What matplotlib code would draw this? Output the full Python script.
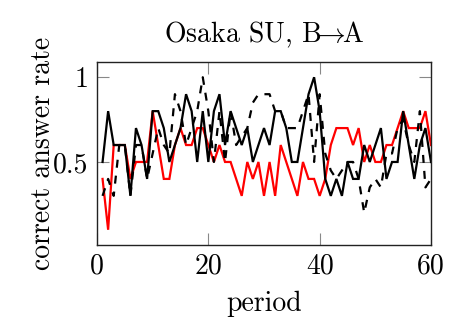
import matplotlib
matplotlib.use("Agg")
import matplotlib.pyplot as plt

periods = list(range(1, 61))
red_rate = [0.4, 0.1, 0.6, 0.6, 0.6, 0.4, 0.5, 0.5, 0.5, 0.8,
            0.6, 0.4, 0.4, 0.6, 0.7, 0.6, 0.6, 0.7, 0.7, 0.6,
            0.5, 0.6, 0.5, 0.5, 0.4, 0.3, 0.5, 0.4, 0.5, 0.3,
            0.5, 0.3, 0.6, 0.5, 0.4, 0.3, 0.5, 0.4, 0.4, 0.3,
            0.4, 0.6, 0.7, 0.7, 0.7, 0.6, 0.7, 0.5, 0.6, 0.5,
            0.5, 0.6, 0.6, 0.7, 0.8, 0.7, 0.7, 0.7, 0.8, 0.6]
black_rate = [0.5, 0.8, 0.6, 0.6, 0.6, 0.3, 0.7, 0.6, 0.4, 0.8,
              0.8, 0.7, 0.5, 0.6, 0.7, 0.9, 0.8, 0.5, 0.8, 0.5,
              0.8, 0.9, 0.6, 0.8, 0.7, 0.6, 0.7, 0.5, 0.6, 0.7,
              0.6, 0.8, 0.8, 0.7, 0.5, 0.5, 0.7, 0.9, 1.0, 0.8,
              0.4, 0.3, 0.4, 0.3, 0.5, 0.4, 0.4, 0.6, 0.5, 0.6,
              0.7, 0.4, 0.5, 0.5, 0.8, 0.6, 0.4, 0.6, 0.7, 0.5]
dashed_rate = [0.3, 0.4, 0.3, 0.6, 0.6, 0.3, 0.6, 0.6, 0.4, 0.55,
               0.7, 0.6, 0.55, 0.9, 0.8, 0.6, 0.7, 0.8, 1.0, 0.8,
               0.5, 0.8, 0.5, 0.8, 0.6, 0.65, 0.7, 0.85, 0.9, 0.9,
               0.9, 0.8, 0.8, 0.7, 0.7, 0.7, 0.8, 0.9, 0.5, 0.9,
               0.55, 0.45, 0.4, 0.45, 0.5, 0.5, 0.4, 0.2, 0.35, 0.4,
               0.35, 0.55, 0.55, 0.7, 0.75, 0.6, 0.5, 0.8, 0.35, 0.4]

xticks = [0, 20, 40, 60]
yticks = [0.5, 1]

plt.rcParams['font.family'] = ['cmr10', 'DejaVu Serif']
plt.rcParams['mathtext.fontset'] = 'cm'
plt.rcParams['axes.formatter.use_mathtext'] = True

fig = plt.figure(figsize=(4.49, 3.23), dpi=100)
ax = fig.add_axes([97/449, 78/323, 334/449, 183/323])

lw = 1.6
ax.plot(periods, red_rate, color='#ff0000', lw=lw, solid_joinstyle='miter')
ax.plot(periods, dashed_rate, color='black', lw=lw, dashes=(3.6, 3.6))
ax.plot(periods, black_rate, color='black', lw=lw, solid_joinstyle='miter')

ax.set_xlim(0, 60)
ax.set_ylim(0.01, 1.09)
ax.set_xticks(xticks)
ax.set_yticks(yticks)
ax.set_xticklabels(['0', '20', '40', '60'])
ax.set_yticklabels(['0.5', '1'])
ax.tick_params(direction='in', length=8.5, width=0.8, color='#888888',
               top=True, right=True, labelsize=20, pad=6)
for s in ax.spines.values():
    s.set_linewidth(1.0)
    s.set_color('#222222')

ax.set_title(r'Osaka SU, B$\!\!\rightarrow\!\!$A', fontsize=20, pad=14)
ax.set_xlabel('period', fontsize=20, labelpad=8)
ax.set_ylabel('correct answer rate', fontsize=20, labelpad=-2)

fig.savefig('out.png', dpi=100)
